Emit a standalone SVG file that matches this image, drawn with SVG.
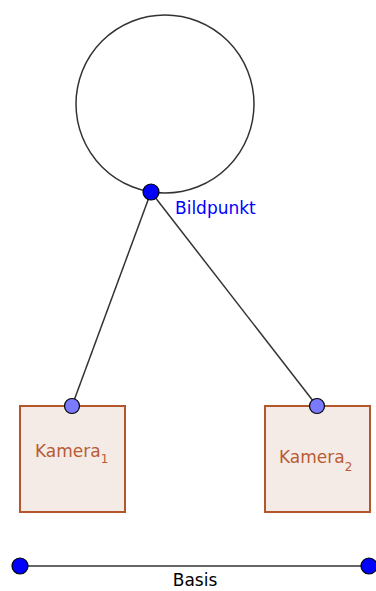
<svg xmlns="http://www.w3.org/2000/svg" width="376" height="591" viewBox="0 0 376 591">
<style>
.line{stroke:#333;stroke-width:1.5;fill:none}
.box{fill:#f5ebe6;stroke:#b5552b;stroke-width:2}
.pt{fill:#0000ff;stroke:#000;stroke-width:1.2}
.pt2{fill:#7a7aff;stroke:#000;stroke-width:1.2}
.cam{font-family:"DejaVu Sans",sans-serif;font-size:17px;fill:#b85c33}
.lbl{font-family:"DejaVu Sans",sans-serif;font-size:17px}
</style>
<rect width="376" height="591" fill="#fff"/>
<g id="connectors">
<circle cx="165" cy="104" r="89" class="line"/>
<line x1="151" y1="192" x2="72" y2="406" class="line"/>
<line x1="151" y1="192" x2="317" y2="406" class="line"/>
<line x1="20" y1="566" x2="369" y2="566" class="line"/>
</g>
<g id="kamera1">
<rect x="20" y="406" width="105" height="106" class="box"/>
<text x="35" y="457" class="cam">Kamera<tspan font-size="12" dy="6">1</tspan></text>
<circle cx="72" cy="406" r="7.5" class="pt2"/>
</g>
<g id="kamera2">
<rect x="265" y="406" width="105" height="106" class="box"/>
<text x="279" y="463" class="cam">Kamera<tspan font-size="12" dy="8">2</tspan></text>
<circle cx="317" cy="406" r="7.5" class="pt2"/>
</g>
<g id="bildpunkt">
<circle cx="151" cy="192" r="8" class="pt"/>
<text x="175" y="214" class="lbl" fill="#0000ff">Bildpunkt</text>
</g>
<g id="basis">
<circle cx="20" cy="566" r="8" class="pt"/>
<circle cx="369" cy="566" r="8" class="pt"/>
<text x="195" y="586" class="lbl" fill="#000" text-anchor="middle">Basis</text>
</g>
</svg>
